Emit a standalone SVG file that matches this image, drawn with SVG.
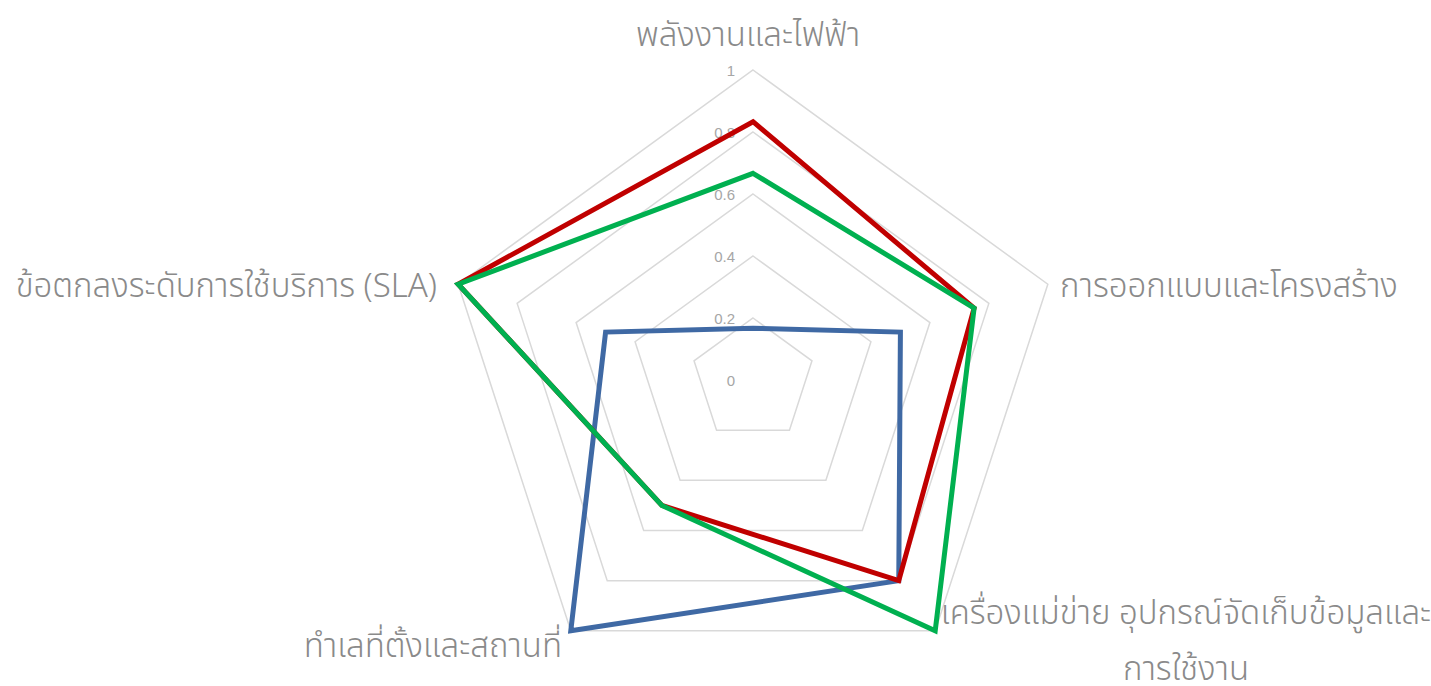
<svg xmlns="http://www.w3.org/2000/svg" width="1431" height="686" viewBox="0 0 1431 686">
<style>
.grid{fill:none;stroke:#d9d9d9;stroke-width:1.5}
.series{fill:none;stroke-width:5;stroke-linejoin:miter}
.val{font-family:"Liberation Sans",Arial,sans-serif;font-size:15px;fill:#a6a6a6;text-anchor:end;dominant-baseline:central}
.cat{font-family:"Noto Sans Thai","Noto Sans","DejaVu Sans",sans-serif;font-size:33px;font-weight:300;fill:#8a8a8a}
</style>
<rect width="1431" height="686" fill="#ffffff"/>
<g id="gridlines">
<polygon class="grid" points="753,318 811.97,360.84 789.44,430.16 716.56,430.16 694.03,360.84"/>
<polygon class="grid" points="753,256 870.93,341.68 825.89,480.32 680.11,480.32 635.07,341.68"/>
<polygon class="grid" points="753,194 929.90,322.52 862.33,530.48 643.67,530.48 576.10,322.52"/>
<polygon class="grid" points="753,132 988.86,303.36 898.77,580.64 607.23,580.64 517.14,303.36"/>
<polygon class="grid" points="753,70 1047.83,284.20 935.21,630.80 570.79,630.80 458.17,284.20"/>
</g>
<g id="value-axis">
<text class="val" x="735" y="70">1</text>
<text class="val" x="735" y="132">0.8</text>
<text class="val" x="735" y="194">0.6</text>
<text class="val" x="735" y="256">0.4</text>
<text class="val" x="735" y="318">0.2</text>
<text class="val" x="735" y="380">0</text>
</g>
<g id="connectors">
<polygon id="series-blue" class="series" stroke="#3f69a4" points="753,328.3 900.41,332.10 898.77,580.64 570.79,630.80 605.59,332.10"/>
<polygon id="series-red" class="series" stroke="#c00000" points="753,121.7 974.12,308.15 898.77,580.64 661.89,505.40 458.17,284.20"/>
<polygon id="series-green" class="series" stroke="#00b050" points="753,173.3 974.12,308.15 935.21,630.80 661.89,505.40 458.17,284.20"/>
</g>
<g id="node-energy"><text class="cat" x="748" y="46" text-anchor="middle">พลังงานและไฟฟ้า</text></g>
<g id="node-design"><text class="cat" x="1060" y="297" text-anchor="start">การออกแบบและโครงสร้าง</text></g>
<g id="node-servers"><text class="cat" x="1186" y="624" text-anchor="middle">เครื่องแม่ข่าย อุปกรณ์จัดเก็บข้อมูลและ</text><text class="cat" x="1186" y="680" text-anchor="middle">การใช้งาน</text></g>
<g id="node-location"><text class="cat" x="562" y="657" text-anchor="end">ทำเลที่ตั้งและสถานที่</text></g>
<g id="node-sla"><text class="cat" x="437" y="297" text-anchor="end">ข้อตกลงระดับการใช้บริการ (SLA)</text></g>
</svg>
